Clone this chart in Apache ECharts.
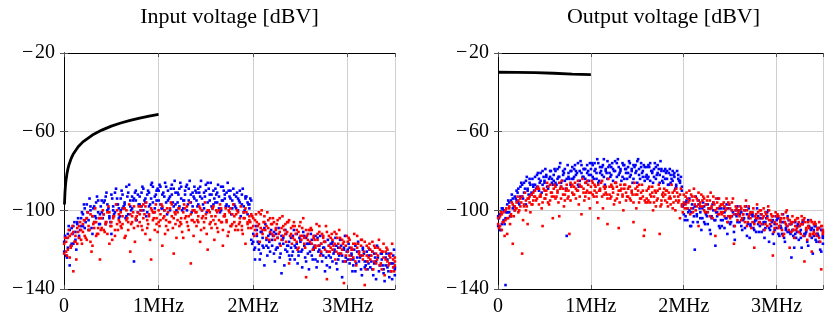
<!DOCTYPE html>
<html><head><meta charset="utf-8">
<script src="https://cdn.jsdelivr.net/npm/echarts@6/dist/echarts.min.js"></script>
<style>html,body{margin:0;padding:0;background:#fff}#c{width:826px;height:320px}</style>
</head><body><div id="c"></div>
<script>
const titles = ['Input voltage [dBV]', 'Output voltage [dBV]'];
const xTicksKHz = [0, 1000, 2000, 3000];
const yTicks = [-140, -100, -60, -20];

// frequency bins (kHz) of sweeps A and B
const freqKHz = [
2,22,41,60,81,99,121,140,159,181,
200,219,241,260,280,301,319,340,361,380,
399,420,441,459,480,501,520,539,561,580,
600,619,641,660,679,701,720,740,759,781,
800,820,839,861,880,899,921,940,960,979,
1001,1020,1040,1061,1080,1099,1121,1140,1160,1179,
1201,1220,1239,1261,1280,1300,1319,1341,1360,1379,
1401,1420,1440,1459,1481,1500,1519,1541,1560,1580,
1601,1620,1639,1661,1680,1700,1719,1741,1760,1779,
1801,1820,1840,1859,1881,1900,1919,1941,1960,1980,
2001,2020,2039,2061,2080,2100,2119,2141,2160,2179,
2201,2220,2240,2259,2281,2300,2319,2341,2360,2380,
2401,2420,2439,2461,2480,2500,2519,2541,2560,2579,
2601,2620,2640,2659,2681,2700,2719,2741,2760,2780,
2801,2820,2839,2861,2880,2900,2919,2941,2960,2979,
3001,3020,3040,3059,3081,3100,3119,3141,3160,3180,
3201,3220,3239,3261,3280,3300,3319,3341,3360,3379,
3401,3420,3440,3459,3481,3498];
// frequency bins (kHz) of sweep C
const freqKHzC = [
11,31,50,71,90,110,130,149,170,190,
211,229,250,270,291,310,330,349,371,389,
410,430,449,470,491,510,529,550,570,590,
609,630,651,670,689,710,731,750,769,790,
810,829,851,870,889,910,930,949,971,990,
1010,1031,1050,1069,1090,1110,1130,1151,1170,1189,
1210,1230,1249,1270,1291,1310,1329,1350,1370,1390,
1411,1430,1449,1470,1490,1509,1530,1551,1570,1590,
1610,1629,1650,1670,1689,1710,1731,1750,1769,1790,
1810,1830,1850,1869,1890,1910,1929,1950,1970,1990,
2011,2030,2049,2070,2090,2110,2129,2150,2171,2190,
2210,2230,2250,2269,2290,2310,2330,2349,2370,2390,
2410,2431,2450,2470,2489,2510,2530,2550,2569,2590,
2610,2630,2650,2671,2690,2710,2729,2750,2770,2790,
2810,2831,2850,2870,2889,2910,2930,2950,2971,2990,
3010,3030,3050,3069,3090,3110,3130,3150,3171,3190,
3210,3230,3250,3270,3289,3310,3330,3350,3369,3390,
3410,3430,3450,3470,3489,3499];

// Input voltage, blue sweeps
const inBlueA = [
-121,-114,-119,-110,-117,-108,-115,-106,-113,-104,
-108,-99,-104,-110,-98,-103,-106,-96,-101,-107,
-95,-102,-93,-100,-104,-92,-98,-101,-94,-99,
-100,-92,-97,-103,-91,-95,-99,-94,-90,-101,
-93,-98,-89,-96,-101,-91,-94,-88,-99,-95,
-90,-97,-92,-100,-88,-95,-93,-87,-98,-91,
-96,-89,-94,-99,-90,-87,-95,-92,-98,-88,
-91,-97,-88,-94,-99,-90,-86,-95,-92,-97,
-89,-96,-93,-100,-88,-94,-91,-98,-90,-95,
-92,-99,-94,-90,-97,-101,-93,-96,-99,-95,
-112,-119,-110,-117,-122,-114,-109,-118,-113,-121,
-118,-111,-120,-114,-124,-113,-117,-110,-121,-116,
-114,-121,-118,-112,-123,-116,-120,-113,-126,-117,
-121,-115,-119,-125,-114,-120,-117,-123,-116,-128,
-118,-124,-116,-121,-127,-119,-115,-123,-120,-126,
-125,-119,-123,-128,-118,-124,-121,-130,-120,-126,
-121,-127,-123,-130,-122,-126,-119,-128,-125,-132,
-124,-129,-122,-131,-127,-133];
const inBlueB = [
-116,-123,-112,-128,-109,-117,-111,-107,-114,-108,
-102,-109,-97,-105,-100,-112,-98,-104,-95,-102,
-101,-96,-107,-97,-103,-112,-100,-91,-97,-104,
-94,-99,-96,-88,-102,-98,-93,-126,-95,-92,
-97,-91,-100,-94,-92,-98,-87,-96,-93,-90,
-95,-88,-99,-93,-96,-90,-100,-92,-89,-97,
-91,-98,-88,-95,-92,-100,-89,-96,-91,-94,
-95,-89,-93,-100,-91,-87,-96,-92,-98,-90,
-96,-91,-99,-88,-95,-92,-97,-90,-94,-99,
-97,-93,-100,-96,-92,-98,-94,-102,-97,-115,
-116,-125,-113,-120,-111,-118,-128,-115,-119,-112,
-115,-122,-112,-119,-117,-132,-114,-120,-118,-123,
-119,-113,-125,-117,-121,-115,-129,-118,-114,-122,
-117,-123,-120,-113,-126,-118,-122,-119,-131,-121,
-123,-117,-126,-120,-118,-125,-122,-134,-119,-124,
-120,-127,-122,-125,-131,-121,-126,-123,-119,-129,
-126,-123,-129,-121,-127,-135,-124,-128,-122,-130,
-128,-125,-134,-127,-123,-130];
const inBlueC = [
-113,-124,-108,-118,-112,-106,-120,-104,-110,-101,
-97,-106,-101,-94,-109,-99,-103,-93,-107,-98,
-104,-95,-91,-99,-106,-94,-102,-89,-97,-103,
-90,-98,-104,-93,-87,-100,-95,-91,-105,-97,
-100,-88,-95,-103,-90,-97,-86,-101,-92,-89,
-87,-99,-91,-86,-102,-94,-89,-96,-85,-100,
-92,-86,-100,-95,-88,-97,-85,-101,-93,-90,
-98,-91,-85,-97,-93,-101,-89,-86,-99,-94,
-92,-87,-101,-95,-90,-98,-86,-93,-102,-89,
-98,-91,-95,-103,-89,-100,-93,-97,-94,-117,
-120,-108,-116,-125,-111,-119,-107,-123,-116,-110,
-113,-126,-119,-109,-122,-115,-128,-112,-118,-125,
-123,-110,-119,-127,-114,-121,-111,-124,-117,-130,
-112,-125,-118,-129,-121,-113,-126,-119,-124,-115,
-129,-117,-122,-114,-130,-123,-118,-126,-113,-121,
-117,-125,-131,-120,-127,-116,-124,-133,-122,-128,
-130,-120,-126,-133,-124,-118,-131,-122,-128,-136,
-122,-131,-127,-135,-120,-129];
// Input voltage, red sweeps
const inRedA = [
-122,-116,-120,-113,-118,-111,-116,-109,-114,-110,
-107,-113,-104,-110,-116,-103,-109,-106,-112,-104,
-109,-102,-107,-112,-101,-106,-103,-110,-100,-105,
-101,-107,-99,-105,-110,-102,-106,-98,-104,-108,
-106,-100,-104,-98,-109,-102,-99,-105,-101,-107,
-100,-105,-98,-103,-108,-101,-106,-97,-104,-102,
-105,-99,-107,-101,-104,-98,-110,-102,-100,-106,
-101,-106,-99,-104,-109,-102,-100,-107,-103,-98,
-107,-101,-105,-99,-110,-103,-106,-100,-108,-102,
-103,-108,-101,-106,-110,-104,-99,-107,-105,-102,
-104,-110,-106,-101,-109,-112,-103,-108,-105,-111,
-112,-106,-110,-114,-104,-109,-113,-107,-111,-105,
-109,-114,-108,-116,-111,-106,-113,-117,-110,-115,
-116,-110,-114,-119,-112,-108,-117,-113,-120,-111,
-113,-119,-115,-111,-121,-117,-114,-120,-116,-123,
-121,-115,-119,-124,-117,-113,-122,-118,-125,-116,
-118,-124,-120,-116,-126,-122,-119,-128,-121,-117,
-125,-120,-127,-122,-129,-124];
const inRedB = [
-117,-121,-114,-124,-112,-131,-113,-117,-108,-115,
-111,-105,-115,-108,-102,-118,-106,-113,-109,-125,
-104,-110,-106,-101,-117,-108,-104,-113,-107,-102,
-108,-103,-114,-100,-106,-121,-103,-109,-105,-101,
-102,-108,-97,-112,-105,-103,-125,-101,-110,-104,
-106,-102,-118,-100,-105,-110,-99,-103,-122,-107,
-101,-108,-104,-114,-99,-106,-103,-127,-105,-100,
-108,-103,-116,-100,-106,-104,-120,-101,-109,-105,
-103,-109,-100,-106,-118,-102,-105,-111,-99,-107,
-106,-102,-110,-104,-108,-101,-117,-106,-103,-109,
-108,-105,-112,-107,-102,-110,-106,-114,-109,-104,
-107,-113,-109,-105,-111,-115,-108,-112,-106,-127,
-112,-108,-115,-110,-119,-113,-109,-114,-134,-112,
-110,-117,-113,-118,-115,-111,-121,-114,-116,-135,
-118,-114,-120,-117,-112,-122,-119,-115,-137,-118,
-116,-123,-120,-117,-126,-119,-121,-115,-123,-138,
-123,-119,-125,-121,-118,-127,-123,-120,-130,-124,
-121,-126,-123,-131,-125,-128];
const inRedC = [
-114,-123,-110,-119,-108,-116,-125,-111,-106,-117,
-105,-114,-101,-110,-121,-107,-99,-112,-104,-110,
-100,-111,-106,-98,-108,-115,-103,-97,-110,-106,
-109,-99,-113,-104,-97,-107,-101,-116,-103,-98,
-98,-110,-102,-96,-107,-115,-100,-104,-97,-111,
-108,-97,-104,-112,-99,-106,-96,-109,-101,-114,
-99,-106,-111,-97,-103,-108,-96,-105,-113,-101,
-105,-98,-110,-103,-96,-112,-100,-106,-99,-115,
-100,-111,-97,-106,-103,-99,-113,-101,-108,-97,
-110,-100,-107,-98,-112,-104,-101,-109,-106,-103,
-113,-102,-108,-116,-100,-106,-110,-101,-115,-107,
-104,-115,-107,-112,-118,-103,-110,-116,-106,-113,
-117,-106,-112,-120,-108,-115,-104,-119,-113,-110,
-109,-120,-115,-107,-118,-123,-112,-116,-108,-121,
-121,-112,-118,-125,-114,-110,-122,-117,-126,-113,
-114,-125,-120,-112,-128,-117,-123,-115,-121,-130,
-126,-117,-123,-130,-119,-125,-115,-127,-121,-133,
-119,-128,-124,-117,-131,-126];
// Output voltage, blue sweeps
const outBlueA = [
-108,-102,-107,-100,-104,-97,-101,-95,-99,-93,
-95,-89,-93,-87,-91,-85,-90,-86,-92,-88,
-83,-88,-84,-81,-87,-85,-82,-89,-83,-86,
-85,-80,-84,-78,-86,-82,-79,-84,-81,-87,
-78,-83,-80,-76,-85,-81,-79,-84,-77,-82,
-82,-77,-80,-84,-76,-81,-78,-83,-79,-75,
-77,-82,-79,-75,-83,-78,-80,-76,-84,-79,
-81,-76,-79,-84,-77,-75,-82,-78,-80,-85,
-78,-83,-76,-81,-79,-84,-77,-82,-80,-86,
-79,-84,-81,-86,-80,-83,-87,-82,-85,-88,
-97,-103,-99,-94,-101,-106,-98,-102,-95,-104,
-104,-98,-102,-107,-99,-103,-96,-105,-101,-108,
-99,-105,-101,-97,-106,-103,-100,-108,-102,-98,
-106,-101,-104,-109,-102,-99,-107,-103,-110,-105,
-103,-108,-104,-110,-106,-101,-109,-105,-112,-107,
-109,-104,-108,-112,-106,-110,-103,-111,-107,-113,
-106,-111,-108,-114,-107,-112,-110,-105,-113,-109,
-113,-108,-112,-116,-110,-114];
const outBlueB = [
-103,-110,-99,-105,-138,-101,-96,-103,-94,-100,
-90,-96,-88,-93,-86,-97,-89,-84,-91,-87,
-87,-82,-90,-85,-80,-86,-83,-88,-80,-84,
-82,-86,-79,-83,-88,-80,-85,-113,-83,-80,
-84,-79,-82,-87,-80,-77,-83,-79,-81,-85,
-79,-83,-76,-81,-86,-78,-82,-74,-80,-84,
-81,-78,-85,-80,-76,-82,-79,-83,-77,-81,
-78,-83,-80,-77,-81,-86,-79,-76,-83,-78,
-82,-77,-85,-80,-83,-78,-81,-86,-79,-83,
-84,-80,-87,-82,-85,-81,-88,-84,-86,-90,
-102,-96,-105,-100,-108,-99,-120,-103,-97,-101,
-99,-106,-101,-97,-110,-104,-100,-118,-103,-99,
-105,-101,-109,-104,-99,-107,-103,-111,-100,-106,
-102,-108,-105,-100,-113,-104,-108,-102,-106,-111,
-107,-104,-111,-106,-109,-103,-116,-108,-105,-110,
-105,-112,-108,-106,-114,-109,-111,-107,-124,-110,
-112,-108,-115,-110,-106,-113,-111,-118,-109,-114,
-110,-115,-112,-109,-121,-113];
const outBlueC = [
-104,-110,-99,-107,-101,-95,-103,-92,-98,-94,
-91,-97,-86,-94,-89,-83,-92,-87,-84,-90,
-89,-81,-86,-91,-83,-79,-88,-84,-80,-87,
-79,-87,-83,-76,-85,-81,-89,-77,-84,-80,
-84,-77,-81,-88,-75,-83,-79,-86,-80,-76,
-76,-84,-79,-74,-85,-80,-77,-87,-81,-78,
-83,-76,-80,-86,-74,-81,-85,-77,-79,-84,
-75,-82,-86,-78,-80,-74,-84,-81,-77,-83,
-84,-78,-80,-86,-76,-82,-79,-75,-85,-80,
-81,-87,-79,-84,-82,-89,-80,-85,-83,-98,
-105,-95,-101,-108,-97,-103,-93,-106,-99,-110,
-96,-107,-103,-99,-112,-97,-105,-101,-94,-109,
-108,-99,-104,-112,-97,-106,-101,-115,-103,-100,
-100,-110,-104,-98,-107,-114,-102,-109,-105,-99,
-111,-102,-107,-114,-104,-100,-110,-106,-117,-103,
-104,-113,-109,-102,-116,-108,-105,-112,-110,-119,
-114,-107,-111,-119,-105,-112,-116,-108,-110,-122,
-108,-116,-113,-120,-110,-117];
// Output voltage, red sweeps
const outRedA = [
-104,-108,-102,-106,-100,-104,-98,-102,-97,-100,
-99,-95,-98,-93,-97,-100,-94,-96,-92,-95,
-90,-94,-89,-93,-96,-90,-92,-88,-95,-91,
-93,-88,-91,-86,-94,-89,-92,-87,-90,-95,
-87,-92,-89,-85,-93,-88,-91,-86,-90,-94,
-91,-86,-90,-93,-87,-89,-85,-92,-88,-94,
-88,-93,-89,-86,-94,-90,-87,-92,-89,-95,
-93,-88,-91,-96,-89,-92,-87,-94,-90,-95,
-90,-95,-92,-88,-96,-91,-94,-89,-97,-93,
-95,-90,-94,-97,-91,-93,-89,-96,-92,-98,
-92,-97,-94,-90,-99,-95,-93,-98,-91,-96,
-98,-94,-97,-101,-95,-99,-93,-100,-96,-102,
-97,-101,-98,-94,-103,-99,-96,-102,-100,-105,
-103,-99,-102,-106,-100,-98,-104,-101,-107,-102,
-101,-106,-102,-99,-107,-104,-100,-105,-103,-109,
-107,-103,-106,-110,-104,-101,-108,-105,-111,-106,
-105,-109,-106,-112,-107,-104,-110,-108,-113,-106,
-111,-107,-110,-114,-108,-112];
const outRedB = [
-107,-103,-110,-101,-105,-112,-99,-103,-117,-98,
-96,-101,-94,-122,-98,-95,-107,-93,-97,-91,
-93,-89,-97,-92,-108,-94,-90,-96,-87,-93,
-89,-94,-90,-103,-88,-92,-95,-89,-93,-86,
-91,-88,-94,-90,-87,-102,-89,-93,-85,-91,
-88,-92,-87,-91,-104,-90,-93,-88,-91,-107,
-92,-87,-91,-95,-88,-109,-90,-93,-87,-91,
-89,-94,-90,-106,-92,-88,-96,-91,-93,-110,
-94,-89,-96,-91,-93,-98,-90,-112,-95,-91,
-92,-96,-91,-94,-99,-90,-95,-93,-104,-97,
-96,-93,-99,-95,-92,-101,-97,-94,-108,-98,
-95,-100,-97,-93,-103,-98,-96,-113,-99,-94,
-101,-97,-103,-99,-96,-104,-100,-117,-98,-102,
-100,-105,-102,-98,-108,-103,-101,-106,-119,-104,
-104,-100,-107,-103,-101,-108,-105,-102,-123,-106,
-103,-109,-105,-102,-112,-107,-104,-119,-106,-110,
-108,-104,-111,-107,-105,-126,-109,-106,-112,-121,
-107,-112,-109,-106,-130,-110];
const outRedC = [
-109,-101,-106,-113,-99,-104,-107,-96,-103,-99,
-93,-100,-96,-105,-91,-98,-94,-101,-97,-93,
-95,-88,-93,-99,-89,-94,-86,-97,-91,-104,
-87,-93,-96,-89,-85,-98,-90,-94,-112,-88,
-92,-86,-90,-97,-88,-84,-95,-91,-87,-99,
-85,-93,-88,-96,-90,-86,-99,-89,-92,-84,
-94,-88,-97,-86,-92,-96,-89,-100,-87,-93,
-88,-95,-92,-86,-99,-90,-94,-87,-113,-96,
-96,-88,-93,-100,-90,-95,-87,-98,-92,-89,
-90,-98,-93,-87,-96,-100,-91,-95,-89,-101,
-99,-91,-96,-102,-93,-89,-100,-95,-97,-92,
-93,-101,-95,-99,-91,-104,-97,-94,-102,-98,
-102,-96,-100,-106,-97,-103,-94,-108,-99,-101,
-98,-104,-100,-95,-106,-102,-109,-99,-103,-97,
-106,-100,-104,-110,-102,-98,-107,-103,-111,-101,
-102,-108,-104,-113,-106,-100,-110,-107,-103,-114,
-110,-104,-108,-103,-113,-106,-115,-109,-105,-112,
-106,-113,-109,-116,-108,-111];

// Black drive curves
const inLineKHz = [5,10,15,20,30,40,50,75,100,150,200,300,400,500,600,700,800,900,1000];
const inLineDB  = [-97,-91.2,-87.7,-85.2,-81.7,-79.2,-77.2,-73.7,-71.2,-67.7,-65.2,-61.7,-59.2,-57.2,-55.6,-54.3,-53.1,-52.1,-51.2];
const outLineKHz = [0,200,400,600,800,1000];
const outLineDB  = [-29.8,-29.9,-30.0,-30.3,-30.7,-31.0];

function pairs(xs, ys) {
  const n = Math.min(xs.length, ys.length), out = [];
  for (let i = 0; i < n; i++) out.push([xs[i], ys[i]]);
  return out;
}

const FONT = 'Liberation Serif';
const chart = echarts.init(document.getElementById('c'), null, {renderer: 'canvas'});
const grids = [
  {left: 64, top: 53, width: 331, height: 236},
  {left: 498, top: 53, width: 331, height: 236}
];
const tickStyle = {show: true, inside: true, length: 4, lineStyle: {color: '#555', width: 1}};
const lineStyleAxis = {show: true, lineStyle: {color: '#000', width: 1}};
const xAxes = [], yAxes = [];
grids.forEach((g, i) => {
  xAxes.push({
    gridIndex: i, type: 'value', position: 'bottom', min: 0, max: 3500, interval: 1000,
    axisLine: lineStyleAxis, axisTick: tickStyle,
    axisLabel: {
      fontFamily: FONT, fontSize: 20, color: '#000', margin: 8,
      formatter: v => (xTicksKHz.indexOf(v) < 0 ? '' : (v === 0 ? '0' : (v / 1000) + 'MHz'))
    },
    splitLine: {show: true, lineStyle: {color: '#cfcfcf', width: 1}}
  });
  xAxes.push({
    gridIndex: i, type: 'value', position: 'top', min: 0, max: 3500, interval: 1000,
    axisLine: lineStyleAxis, axisTick: tickStyle, axisLabel: {show: false}, splitLine: {show: false}
  });
  yAxes.push({
    gridIndex: i, type: 'value', position: 'left', min: -140, max: -20, interval: 40,
    axisLine: lineStyleAxis, axisTick: tickStyle,
    axisLabel: {
      fontFamily: FONT, fontSize: 20, color: '#000', margin: 9,
      formatter: v => (yTicks.indexOf(v) < 0 ? '' : (v < 0 ? '\u2212\u200a' + Math.abs(v) : String(v)))
    },
    splitLine: {show: true, lineStyle: {color: '#cfcfcf', width: 1}}
  });
  yAxes.push({
    gridIndex: i, type: 'value', position: 'right', min: -140, max: -20, interval: 40,
    axisLine: lineStyleAxis, axisTick: tickStyle, axisLabel: {show: false}, splitLine: {show: false}
  });
});

function scatter(i, data, color) {
  return {
    type: 'scatter', xAxisIndex: i * 2, yAxisIndex: i * 2, data: data,
    symbol: 'rect', symbolSize: 2.6, itemStyle: {color: color, opacity: 1},
    silent: true, clip: true
  };
}
function line(i, data) {
  return {
    type: 'line', xAxisIndex: i * 2, yAxisIndex: i * 2, data: data,
    showSymbol: false, symbol: 'none', lineStyle: {color: '#000', width: 2.8},
    silent: true, clip: true
  };
}

const series = [
  scatter(0, pairs(freqKHz, inBlueA), '#0000ff'),
  scatter(0, pairs(freqKHz, inBlueB), '#0000ff'),
  scatter(0, pairs(freqKHzC, inBlueC), '#0000ff'),
  scatter(0, pairs(freqKHz, inRedA), '#ff0000'),
  scatter(0, pairs(freqKHz, inRedB), '#ff0000'),
  scatter(0, pairs(freqKHzC, inRedC), '#ff0000'),
  line(0, pairs(inLineKHz, inLineDB)),
  scatter(1, pairs(freqKHz, outBlueA), '#0000ff'),
  scatter(1, pairs(freqKHz, outBlueB), '#0000ff'),
  scatter(1, pairs(freqKHzC, outBlueC), '#0000ff'),
  scatter(1, pairs(freqKHz, outRedA), '#ff0000'),
  scatter(1, pairs(freqKHz, outRedB), '#ff0000'),
  scatter(1, pairs(freqKHzC, outRedC), '#ff0000'),
  line(1, pairs(outLineKHz, outLineDB))
];

chart.setOption({
  animation: false,
  backgroundColor: '#fff',
  grid: grids,
  xAxis: xAxes,
  yAxis: yAxes,
  series: series,
  graphic: titles.map((t, i) => ({
    type: 'text', x: grids[i].left + grids[i].width / 2, y: 17,
    style: {text: t, fontFamily: FONT, fontSize: 22, fill: '#000', textAlign: 'center', textVerticalAlign: 'middle'}
  }))
});
</script>
</body></html>
